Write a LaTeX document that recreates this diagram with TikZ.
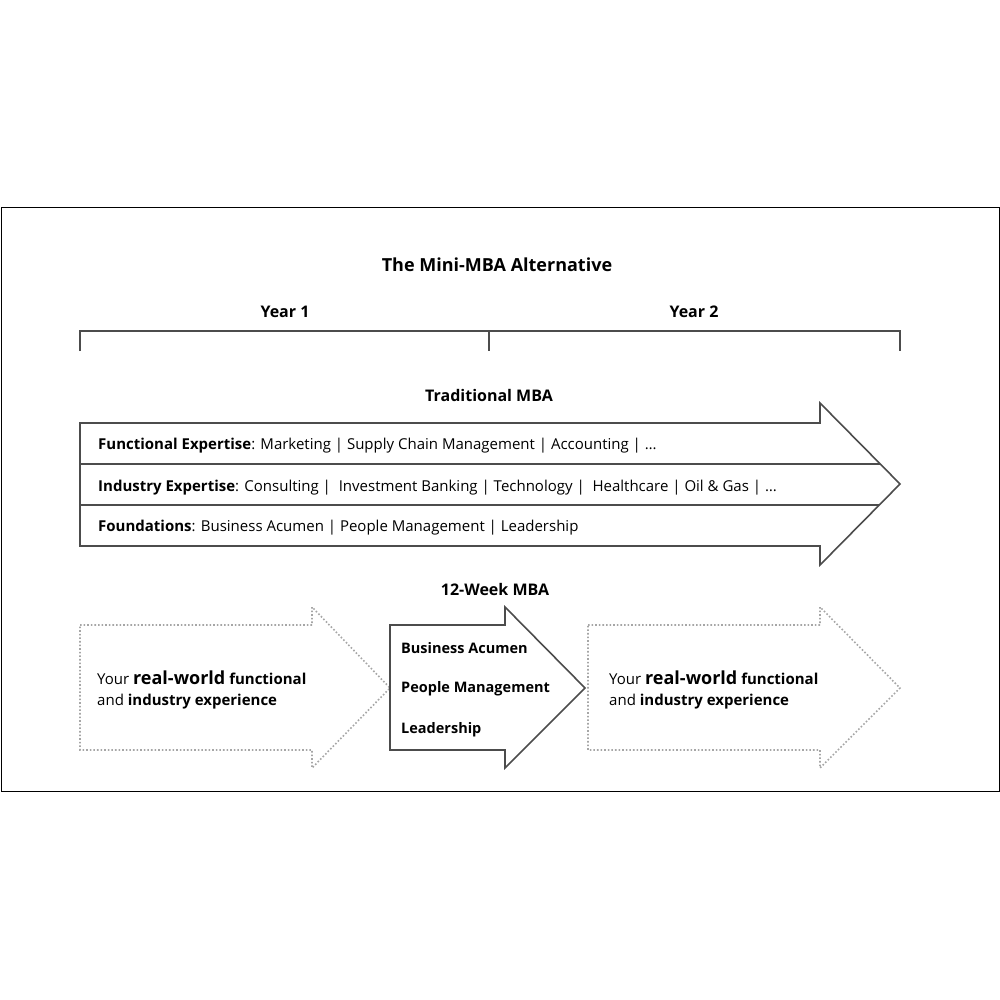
\documentclass[tikz,border=0pt]{standalone}
\usepackage{fontspec}
\setmainfont{Open Sans}
\begin{document}
\begin{tikzpicture}[x=1pt,y=-1pt,
  lbl/.style={anchor=west,inner sep=0pt,font=\fontsize{15}{18}\selectfont},
  hd/.style={inner sep=0pt,font=\fontsize{16}{19}\selectfont\bfseries},
  midt/.style={anchor=west,inner sep=0pt,font=\fontsize{14.5}{17}\selectfont\bfseries},
  solidarr/.style={draw=black!70,line width=1.6pt,line join=miter},
  dotarr/.style={draw=black!35,line width=1.6pt,dotted},
  brk/.style={draw=black!70,line width=2.5pt}]
\useasboundingbox (0,0) rectangle (1000,1000);
\draw[line width=1pt] (1,208) rectangle (999,791);
\node[hd,font=\fontsize{18}{22}\selectfont\bfseries] (title) at (497,265) {The Mini-MBA Alternative};
\node[hd] (y1) at (285,312) {Year 1};
\node[hd] (y2) at (694,312) {Year 2};
\draw[brk] (80,351) -- (80,331) -- (900,331) -- (900,351);
\draw[brk] (489,331) -- (489,351);
\node[hd] (trad) at (489,395) {Traditional MBA};
\draw[solidarr] (80,423) -- (820,423) -- (820,403) -- (900,484) -- (820,565) -- (820,546) -- (80,546) -- cycle;
\draw[solidarr] (80,464) -- (880,464);
\draw[solidarr] (80,505) -- (879,505);
\node[lbl] (r1) at (98,446) {\textbf{Functional Expertise}: Marketing | Supply Chain Management | Accounting | \dots};
\node[lbl] (r2) at (98,488) {\textbf{Industry Expertise}: Consulting |\ \ Investment Banking | Technology |\ \ Healthcare | Oil \& Gas | \dots};
\node[lbl] (r3) at (98,528) {\textbf{Foundations}: Business Acumen | People Management | Leadership};
\node[hd] (twelve) at (495,589) {12-Week MBA};
\draw[dotarr] (80,625) -- (312,625) -- (312,607) -- (390,688) -- (312,768) -- (312,750) -- (80,750) -- cycle;
\draw[solidarr] (390,625) -- (505,625) -- (505,607) -- (585,688) -- (505,768) -- (505,750) -- (390,750) -- cycle;
\draw[dotarr] (588,625) -- (820,625) -- (820,607) -- (900,688) -- (820,768) -- (820,750) -- (588,750) -- cycle;
\node[lbl] (l1) at (97,678) {Your {\fontsize{18}{20}\selectfont\bfseries real-world} \textbf{functional}};
\node[lbl] (l2) at (97,702) {and \textbf{industry experience}};
\node[lbl] (rr1) at (609,678) {Your {\fontsize{18}{20}\selectfont\bfseries real-world} \textbf{functional}};
\node[lbl] (rr2) at (609,702) {and \textbf{industry experience}};
\node[midt] (m1) at (401,648) {Business Acumen};
\node[midt] (m2) at (401,689) {People Management};
\node[midt] (m3) at (401,730) {Leadership};
\end{tikzpicture}
\end{document}
